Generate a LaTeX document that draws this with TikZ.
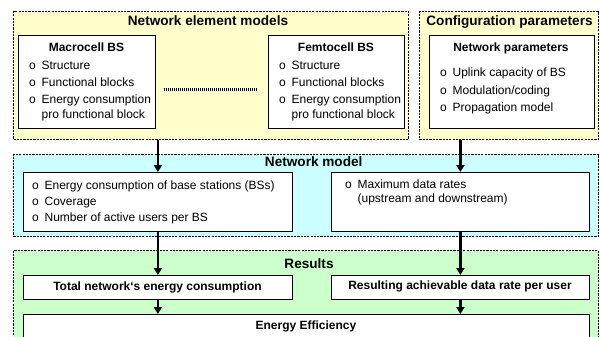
\documentclass[tikz,border=0pt]{standalone}
\usepackage{fontspec}
\setmainfont{Liberation Sans}
\usetikzlibrary{arrows.meta,positioning}
\definecolor{elemfill}{RGB}{255,255,204}
\definecolor{modelfill}{RGB}{204,255,255}
\definecolor{resfill}{RGB}{204,255,204}
\tikzset{%
  group/.style={draw, line width=1.1pt, dash pattern=on 2.2pt off 1.1pt,
    anchor=north west, inner sep=0pt},% dashed frame of a stage
  block/.style={draw, line width=0.8pt, fill=white, anchor=north west, inner sep=0pt},% white box
  title/.style={font=\fontsize{13.6}{16}\selectfont\bfseries, anchor=base, inner sep=0pt},% stage title
  head/.style={font=\fontsize{12}{14.5}\selectfont\bfseries, anchor=base, inner sep=0pt},% box title
  items/.style={font=\fontsize{12}{14.5}\selectfont, anchor=base west, inner sep=0pt},% bullet list
  flow/.style={line width=2.4pt, -{Triangle[length=7pt,width=8pt]}},% arrow between stages
  dots/.style={line width=2.6pt, dash pattern=on 1pt off 1pt}% more cells between
}
\newcommand*{\itm}[1]{\makebox[12.4pt][l]{o}#1}
\newcommand*{\cont}[1]{\hspace*{12.4pt}#1}
\newcommand*{\itemlist}[1]{\begin{tabular}[t]{@{}l@{}}#1\end{tabular}}

\begin{document}
\begin{tikzpicture}[x=1pt,y=-1pt]
\useasboundingbox (0,0) rectangle (600,337);
\clip (0,0) rectangle (600,337);

% stages
\node[group, fill=elemfill, minimum width=395pt, minimum height=128pt] (elem) at (13,11) {};
\node[group, fill=elemfill, minimum width=179pt, minimum height=128pt] (conf) at (419,11) {};
\node[group, fill=modelfill, minimum width=585pt, minimum height=82pt] (model) at (13,154) {};
\node[group, fill=resfill, minimum width=585pt, minimum height=130pt] (res) at (13,250) {};

\node[title] (elemT) at (208,26) {Network element models};
\node[title] (confT) at (509.5,26) {Configuration parameters};
\node[title] (modelT) at (313.7,166) {Network model};
\node[title] (resT) at (309,268) {Results};

% boxes
\node[block, minimum width=137pt, minimum height=93pt] (macro) at (18,35) {};
\node[block, minimum width=136pt, minimum height=93pt] (femto) at (268,35) {};
\node[block, minimum width=165pt, minimum height=93pt] (npar) at (429,35) {};
\node[block, minimum width=269pt, minimum height=59pt] (nmL) at (23,172) {};
\node[block, minimum width=258pt, minimum height=59pt] (nmR) at (331,172) {};
\node[block, minimum width=269pt, minimum height=24pt] (tot) at (23,275) {};
\node[block, minimum width=258pt, minimum height=24pt] (rate) at (331,275) {};
\node[block, minimum width=566pt, minimum height=60pt] (eff) at (23,314) {};

\node[head] (macroT) at (86.5,52) {Macrocell BS};
\node[items] (macroL) at (29,70) {\itemlist{\itm{Structure}\\[2.5pt]\itm{Functional blocks}\\[2.5pt]
  \itm{Energy consumption}\\\cont{pro functional block}}};
\node[head] (femtoT) at (336,52) {Femtocell BS};
\node[items] (femtoL) at (279,70) {\itemlist{\itm{Structure}\\[2.5pt]\itm{Functional blocks}\\[2.5pt]
  \itm{Energy consumption}\\\cont{pro functional block}}};
\node[head] (nparT) at (511,52) {Network parameters};
\node[items] (nparL) at (440,77) {\itemlist{\itm{Uplink capacity of BS}\\[3pt]\itm{Modulation/coding}\\[3pt]
  \itm{Propagation model}}};

\node[items] (nmLL) at (32,189) {\itemlist{\itm{Energy consumption of base stations (BSs)}\\[1.8pt]
  \itm{Coverage}\\[1.8pt]\itm{Number of active users per BS}}};
\node[items] (nmRL) at (345,188.5) {\itemlist{\itm{Maximum data rates}\\[-1pt]\cont{(upstream and downstream)}}};

\node[head] (totT) at (157.5,290) {Total network‘s energy consumption};
\node[head] (rateT) at (460,289) {Resulting achievable data rate per user};
\node[head] (effT) at (306,329) {Energy Efficiency};

% connectors
\draw[dots, shorten <=8pt, shorten >=11pt] ([yshift=-7.5pt]macro.east) -- ([yshift=-7.5pt]femto.west);
\draw[flow] (nmL.north |- elem.south) -- (nmL.north);
\draw[flow] (nmR.north |- conf.south) -- (nmR.north);
\draw[flow] (tot.north |- nmL.south) -- (tot.north);
\draw[flow] (rate.north |- nmR.south) -- (rate.north);
\draw[flow] (tot.south) -- (eff.north -| tot.south);
\draw[flow] (rate.south) -- (eff.north -| rate.south);

\end{tikzpicture}
\end{document}
